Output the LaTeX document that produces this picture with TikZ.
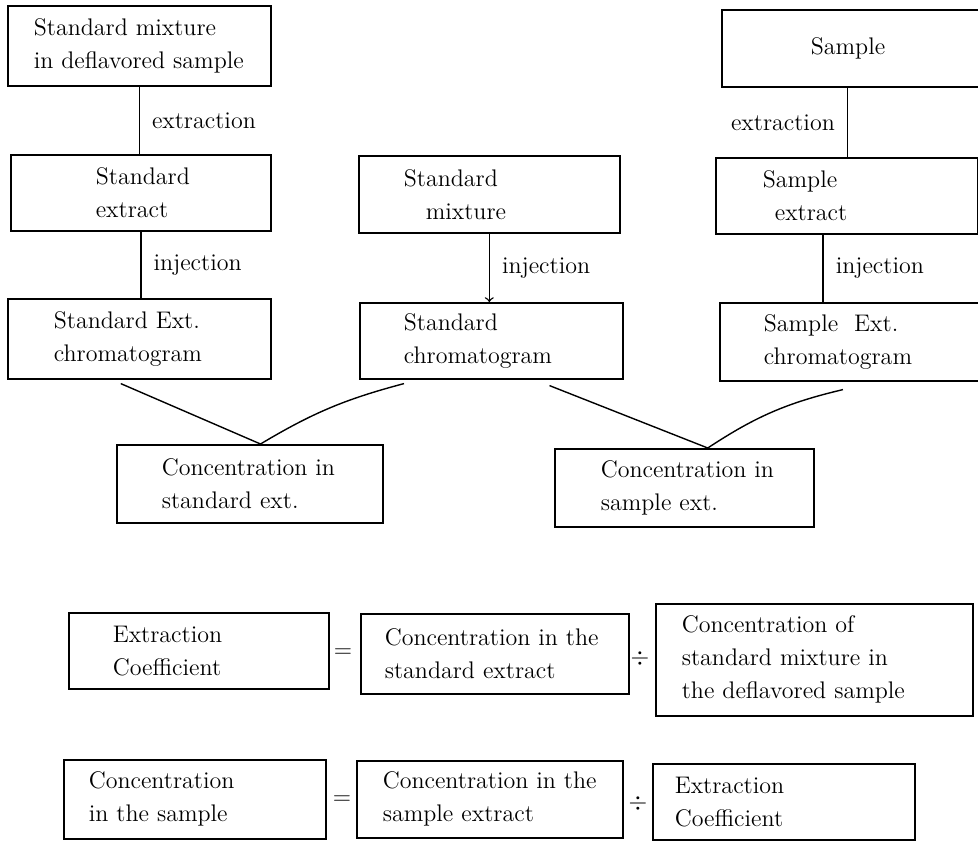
\documentclass[tikz,border=0pt]{standalone}
\usepackage{fontspec}
\usepackage{tikz}
\usetikzlibrary{calc,positioning}
\newcommand{\boxfont}{\fontsize{12}{16.5}\selectfont}

\begin{document}
\begin{tikzpicture}[x=0.5pt,y=-0.5pt,
		box/.style={draw,line width=0.8pt,anchor=north west,align=left,inner ysep=0pt,font=\boxfont},
		link/.style={line width=0.7pt},
		lab/.style={font=\boxfont,inner sep=0pt}]
	\useasboundingbox (0,0) rectangle (978,840);
	% left column
	\node[box,text width=105.5pt,inner xsep=13pt,minimum height=40pt] (stdmix) at (7,5) {Standard~mixture\\in~deflavored~sample};
	\node[box,text width=45pt,inner xsep=42.5pt,minimum height=38pt] (stdext) at (10,154) {Standard\\extract};
	\node[box,text width=85.5pt,inner xsep=23pt,minimum height=40pt] (stdextchr) at (7,298) {Standard~Ext.\\chromatogram};
	% middle column
	\node[box,text width=85.5pt,inner xsep=22.5pt,minimum height=38.5pt] (mix) at (358,155) {Standard\\\hspace*{11pt}mixture};
	\node[box,text width=87.5pt,inner xsep=22pt,minimum height=38pt] (stdchr) at (359,302) {Standard\\chromatogram};
	% right column
	\node[box,text width=42pt,inner xsep=44.5pt,minimum height=38.5pt] (sample) at (721,9) {Sample};
	\node[box,text width=84pt,inner xsep=23.5pt,minimum height=38pt] (smpext) at (715,157) {Sample\\\hspace*{6pt}extract};
	\node[box,text width=87pt,inner xsep=22pt,minimum height=39pt] (smpextchr) at (719,302) {Sample~~Ext.\\chromatogram};
	% concentrations
	\node[box,text width=88pt,inner xsep=22.5pt,minimum height=39pt] (concstd) at (116,444) {Concentration~in\\standard~ext.};
	\node[box,text width=83.5pt,inner xsep=23pt,minimum height=39pt] (concsmp) at (554,448) {Concentration~in\\sample~ext.};

	\draw[link] (stdmix.south) -- (stdmix.south |- stdext.north) node[midway,right=6pt,lab] {extraction};
	\draw[link] (stdext.south) -- (stdext.south |- stdextchr.north) node[midway,right=6pt,lab] {injection};
	\draw[link,->] (mix.south) -- (mix.south |- stdchr.north) node[midway,right=6pt,lab] {injection};
	\coordinate (f1) at ($(sample.south west)!.48!(sample.south east)$);
	\draw[link] (f1) -- (f1 |- smpext.north) node[midway,left=6pt,lab] {extraction};
	\coordinate (g1) at ($(smpext.south west)!.41!(smpext.south east)$);
	\draw[link] (g1) -- (g1 |- smpextchr.north) node[midway,right=6pt,lab] {injection};

	\coordinate (c1) at ($(stdextchr.south west)!.43!(stdextchr.south east)$);
	\coordinate (apex1) at ($(concstd.north west)!.54!(concstd.north east)$);
	\coordinate (e1) at ($(stdchr.south west)!.17!(stdchr.south east)$);
	\draw[link] ([yshift=-2pt]c1) -- (apex1) to[bend left=8] ([yshift=-2pt]e1);
	\coordinate (e2) at ($(stdchr.south west)!.72!(stdchr.south east)$);
	\coordinate (apex2) at ($(concsmp.north west)!.59!(concsmp.north east)$);
	\coordinate (h1) at ($(smpextchr.south west)!.47!(smpextchr.south east)$);
	\draw[link] ([yshift=-3pt]e2) -- (apex2) to[bend left=10] ([yshift=-4pt]h1);

	% equations
	\node[box,text width=86pt,inner xsep=22pt,minimum height=38pt] (coef) at (68,612) {Extraction\\Coefficient};
	\node[lab] (eq1) at (343,653) {$=$};
	\node[box,text width=110pt,inner xsep=12pt,minimum height=40pt] (concstdfull) at (360,613) {Concentration~in~the\\standard~extract};
	\node[lab] (div1) at (640,658) {$\div$};
	\node[box,text width=132.5pt,inner xsep=13pt,minimum height=56pt] (mixdefl) at (655,603) {Concentration~of\\standard~mixture~in\\the~deflavored~sample};

	\node[box,text width=106pt,inner xsep=12.5pt,minimum height=39.5pt] (concsmpall) at (63,759) {Concentration\\in~the~sample};
	\node[lab] (eq2) at (342,800) {$=$};
	\node[box,text width=107pt,inner xsep=13pt,minimum height=38.5pt] (concsmpfull) at (356,760) {Concentration~in~the\\sample~extract};
	\node[lab] (div2) at (638,803) {$\div$};
	\node[box,text width=109pt,inner xsep=11pt,minimum height=38pt] (coef2) at (652,763) {Extraction\\Coefficient};
\end{tikzpicture}
\end{document}
